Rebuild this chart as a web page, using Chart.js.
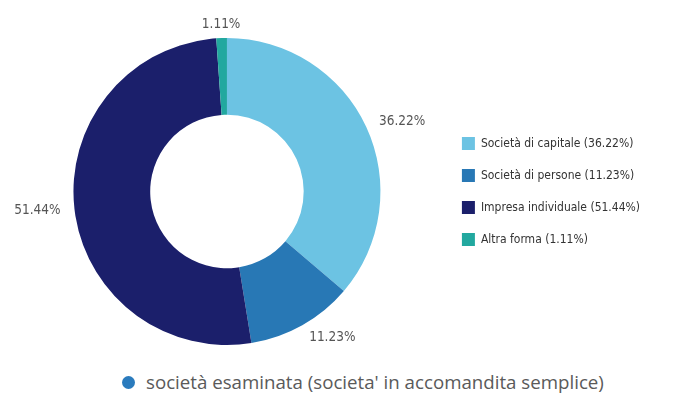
<!DOCTYPE html>
<html>
<head>
<meta charset="utf-8">
<script src="https://cdn.jsdelivr.net/npm/chart.js@4"></script>
<style>
  html, body { margin: 0; padding: 0; background: #fff; }
  #wrap { position: relative; width: 698px; height: 408px; }
  #box { position: absolute; left: 0; top: 0; width: 698px; height: 360px; }
  #nota { position: absolute; left: 122px; top: 369px; font-family: "Open Sans", sans-serif; font-size: 18.7px; color: #5a5a5a; white-space: nowrap; }
  #nota span { display: inline-block; width: 13px; height: 13px; border-radius: 50%; background: #2a7bbd; margin-right: 11px; vertical-align: 0px; }
</style>
</head>
<body>
<div id="wrap">
  <div id="box"><canvas id="formaChart"></canvas></div>
  <div id="nota"><span></span>società esaminata (societa' in accomandita semplice)</div>
</div>
<script>
// dati
const categorie = ['Società di capitale', 'Società di persone', 'Impresa individuale', 'Altra forma'];
const percentuali = [36.22, 11.23, 51.44, 1.11];
const colori = ['#6cc3e3', '#2878b5', '#1b1f6b', '#22a89f'];

// etichette percentuali fuori dalla ciambella
const etichettePlugin = {
    id: 'etichette',
    afterDatasetsDraw(chart) {
        const ctx = chart.ctx;
        const meta = chart.getDatasetMeta(0);
        ctx.save();
        ctx.font = '13.5px "DejaVu Sans Condensed", "DejaVu Sans"';
        ctx.fillStyle = '#555';
        ctx.textBaseline = 'middle';
        meta.data.forEach((arc, i) => {
            const p = arc.getProps(['x', 'y', 'startAngle', 'endAngle', 'outerRadius']);
            const a = (p.startAngle + p.endAngle) / 2;
            const r = p.outerRadius + 14;
            const x = p.x + Math.cos(a) * r;
            const y = p.y + Math.sin(a) * r;
            const c = Math.cos(a);
            ctx.textAlign = Math.abs(c) < 0.1 ? 'center' : (c > 0 ? 'left' : 'right');
            ctx.fillText(percentuali[i].toFixed(2) + '%', x, y);
        });
        ctx.restore();
    }
};

const ctx = document.getElementById('formaChart').getContext('2d');
const formaChart = new Chart(ctx, {
    type: 'doughnut',
    data: {
        labels: categorie.map((c, i) => c + ' (' + percentuali[i].toFixed(2) + '%)'),
        datasets: [{
            data: percentuali,
            backgroundColor: colori,
            borderWidth: 0
        }]
    },
    options: {
        responsive: true,
        maintainAspectRatio: false,
        animation: false,
        cutout: '50%',
        layout: { padding: { top: 38, bottom: 15, left: 11, right: 48 } },
        plugins: {
            tooltip: { enabled: false },
            legend: {
                position: 'right',
                labels: {
                    font: { family: '"DejaVu Sans Condensed", "DejaVu Sans"', size: 12 },
                    color: '#333',
                    boxWidth: 13,
                    boxHeight: 13,
                    padding: 19
                }
            }
        }
    },
    plugins: [etichettePlugin]
});
</script>
</body>
</html>
